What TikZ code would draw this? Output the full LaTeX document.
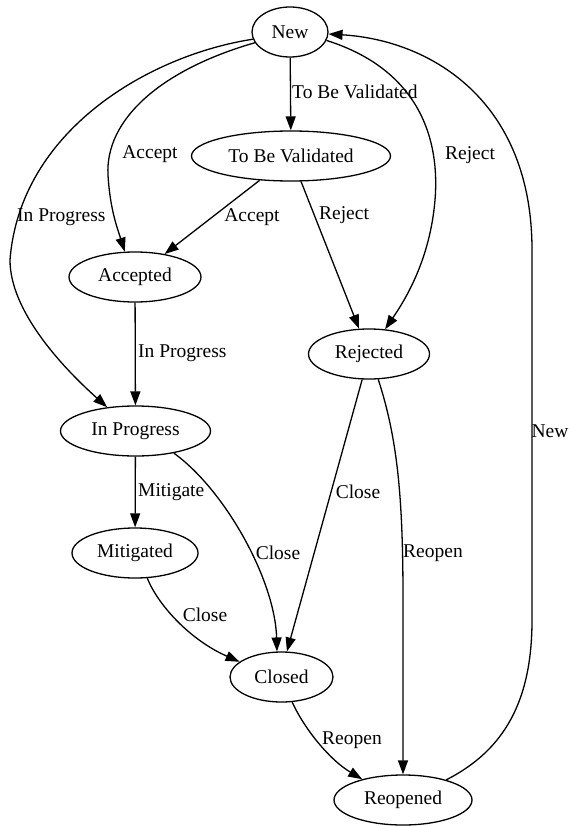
\documentclass[tikz,border=0pt]{standalone}
\usepackage{fontspec}
\setmainfont{Liberation Serif}
\usetikzlibrary{arrows.meta,shapes.geometric}
\tikzset{
	state/.style={draw, ellipse, line width=1.3pt, inner sep=0pt, minimum height=50pt, font=\fontsize{19.5}{23}\selectfont},
	edge/.style={line width=1.3pt, -{Triangle[length=14pt,width=10pt]}},
	elabel/.style={font=\fontsize{19.5}{23}\selectfont, inner sep=0pt},
}
\begin{document}
\begin{tikzpicture}[x=1pt,y=-1pt]
		\useasboundingbox (0,0) rectangle (569,826);

		% States
		\node[state, minimum width=76pt] (new) at (290,32) {New};
		\node[state, minimum width=199pt] (tbv) at (291,156) {To Be Validated};
		\node[state, minimum width=132pt] (accepted) at (135,277) {Accepted};
		\node[state, minimum width=121pt] (rejected) at (369,354) {Rejected};
		\node[state, minimum width=150pt] (inprog) at (135.5,431) {In Progress};
		\node[state, minimum width=126pt] (mitigated) at (135,553) {Mitigated};
		\node[state, minimum width=103pt] (closed) at (281.5,677) {Closed};
		\node[state, minimum width=138pt] (reopened) at (403,800) {Reopened};

		% Transitions from New
		\draw[edge] (new) -- (tbv);
		\draw[edge] (new.197) .. controls (160,70) and (105,120) .. (108,175)
			.. controls (110,210) and (118,230) .. (accepted.112);
		\draw[edge] (new.191) .. controls (150,55) and (20,130) .. (10,260)
			.. controls (10,310) and (60,365) .. (inprog.140);
		\draw[edge] (new.347) .. controls (420,70) and (440,140) .. (435,200)
			.. controls (430,260) and (405,300) .. (rejected.57);

		% Validation
		\draw[edge] (tbv) -- (accepted);
		\draw[edge] (tbv) -- (rejected);

		% Work
		\draw[edge] (accepted) -- (inprog);
		\draw[edge] (inprog) -- (mitigated);
		\draw[edge] (inprog.-30) .. controls (225,490) and (275,580) .. (closed.100);
		\draw[edge] (mitigated.-64) .. controls (158,605) and (190,640) .. (closed.160);
		\draw[edge] (rejected.255) -- (closed.78);

		% Reopening
		\draw[edge] (rejected.290) .. controls (398,440) and (403,500) .. (403,600) -- (reopened.north);
		\draw[edge] (closed.-67) .. controls (305,730) and (330,760) .. (reopened.153);
		\draw[edge] (reopened.25) .. controls (505,750) and (532,700) .. (532,620) -- (532,250)
			.. controls (532,100) and (430,40) .. (new.357);

		% Labels
		\node[elabel, anchor=west] (ltbv) at (292,92) {To Be Validated};
		\node[elabel] (lacc1) at (150,154) {Accept};
		\node[elabel, anchor=west] (lprog1) at (17,217) {In Progress};
		\node[elabel] (lrej1) at (470,155) {Reject};
		\node[elabel] (lacc2) at (252,217) {Accept};
		\node[elabel] (lrej2) at (344,215) {Reject};
		\node[elabel, anchor=west] (lprog2) at (138,353) {In Progress};
		\node[elabel, anchor=west] (lmit) at (138,492) {Mitigate};
		\node[elabel] (lclose1) at (278,553) {Close};
		\node[elabel] (lclose2) at (358,492) {Close};
		\node[elabel] (lreopen1) at (433,553) {Reopen};
		\node[elabel] (lclose3) at (205,615) {Close};
		\node[elabel] (lreopen2) at (352,740) {Reopen};
		\node[elabel] (lnew) at (550,431) {New};
	\end{tikzpicture}
\end{document}
